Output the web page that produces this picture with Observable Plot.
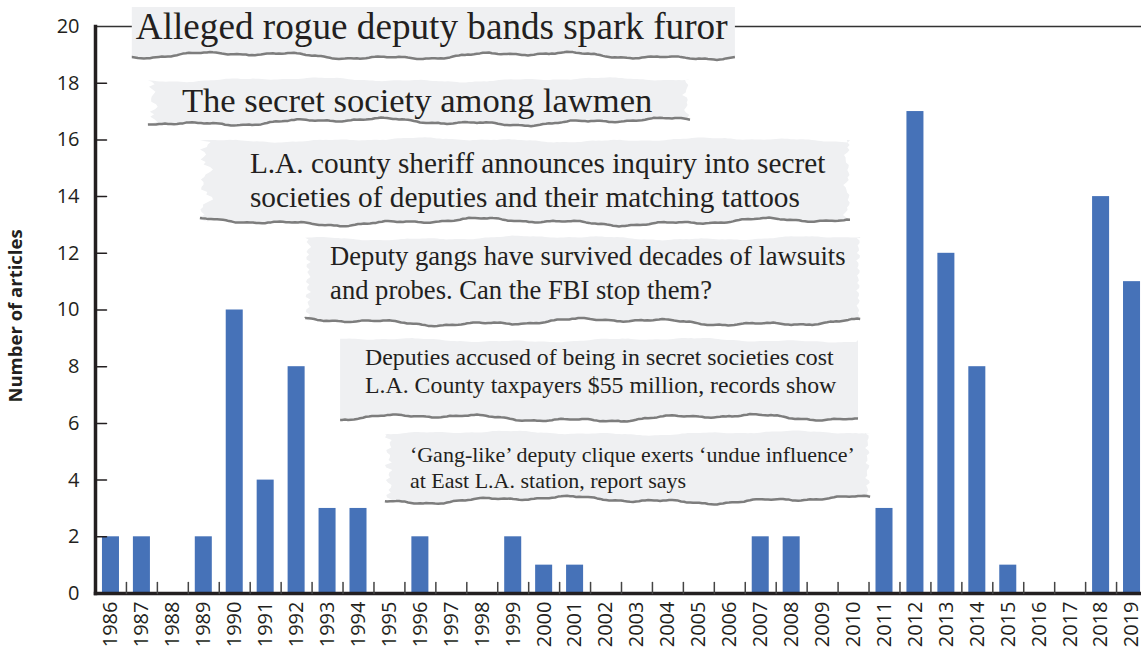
<!DOCTYPE html>
<html><head><meta charset="utf-8">
<script src="https://cdn.jsdelivr.net/npm/d3@7"></script>
<script src="https://cdn.jsdelivr.net/npm/@observablehq/plot@0.6"></script>
<style>html,body{margin:0;padding:0;background:#fff;overflow:hidden} svg{display:block}</style>
</head><body><div id="chart"></div>
<script>
// ---- data ----
const years = ["1986","1987","1988","1989","1990","1991","1992","1993","1994","1995","1996","1997","1998","1999","2000","2001","2002","2003","2004","2005","2006","2007","2008","2009","2010","2011","2012","2013","2014","2015","2016","2017","2018","2019"];
const articles = [2,2,0,2,10,4,8,3,3,0,2,0,0,2,1,1,0,0,0,0,0,2,2,0,0,3,17,12,8,1,0,0,14,11];
const yTicks = [0,2,4,6,8,10,12,14,16,18,20];
const yLabel = "Number of articles";
const headlines = [
  ["Alleged rogue deputy bands spark furor"],
  ["The secret society among lawmen"],
  ["L.A. county sheriff announces inquiry into secret", "societies of deputies and their matching tattoos"],
  ["Deputy gangs have survived decades of lawsuits", "and probes. Can the FBI stop them?"],
  ["Deputies accused of being in secret societies cost", "L.A. County taxpayers $55 million, records show"],
  ["\u2018Gang-like\u2019 deputy clique exerts \u2018undue influence\u2019", "at East L.A. station, report says"]
];
// annotation layout: box edges in (fractional year, article-count) units
const headlineLayout = [
  {x0: 1986.69, x1: 2006.18, yTop: 20.67, yBot: 18.95, padX: 4, base: 32, gap: 0, size: 37.2, jagL: 0, jagR: 0},
  {x0: 1987.21, x1: 2004.73, yTop: 18.10, yBot: 16.62, padX: 34, base: 32, gap: 0, size: 34.6, jagL: 12, jagR: 8},
  {x0: 1988.89, x1: 2009.90, yTop: 15.98, yBot: 13.09, padX: 50, base: 33, gap: 34, size: 29.3, jagL: 14, jagR: 6},
  {x0: 1992.29, x1: 2010.23, yTop: 12.52, yBot: 9.56, padX: 25, base: 27, gap: 34, size: 26.6, jagL: 5, jagR: 3},
  {x0: 1993.42, x1: 2010.16, yTop: 8.92, yBot: 6.17, padX: 25, base: 25, gap: 28, size: 23.8, jagL: 0, jagR: 0},
  {x0: 1994.87, x1: 2010.55, yTop: 5.64, yBot: 3.28, padX: 25, base: 29, gap: 26, size: 22, jagL: 8, jagR: 5}
];

const data = years.map((year, i) => ({year, n: articles[i]}));
const xOpts = {domain: years, range: [95, 1147], paddingInner: 0.45, paddingOuter: 0.225, align: 0.5};
const step = Plot.scale({x: {type: "band", ...xOpts}}).step;
const line = {draw(ctx, l) { ctx.moveTo(0, 0); ctx.lineTo(0, -l); }};
const ink = "#231f20";

const plot = Plot.plot({
  width: 1141, height: 657,
  marginTop: 26, marginBottom: 64, marginLeft: 95, marginRight: 0,
  style: {fontFamily: "'Open Sans', sans-serif", fontSize: "20px", color: ink, background: "#fff", overflow: "hidden"},
  x: {type: "band", ...xOpts, label: null},
  y: {domain: [0, 20], label: null},
  marks: [
    Plot.barY(data, {x: "year", y: "n", fill: "#4672b8"}),
    Plot.ruleY([20], {stroke: "#333", strokeWidth: 1.5}),
    Plot.frame({anchor: "left", stroke: ink, strokeWidth: 3.5}),
    Plot.frame({anchor: "bottom", stroke: ink, strokeWidth: 3.5}),
    Plot.vector(yTicks.slice(1, -1), {y: d => d, frameAnchor: "left", rotate: 90, length: 11, anchor: "start", shape: line, stroke: ink, strokeWidth: 1.5}),
    Plot.vector(years.slice(1), {x: d => d, dx: -step / 2, frameAnchor: "bottom", length: 11, anchor: "start", shape: line, stroke: "#444", strokeWidth: 1.5}),
    Plot.axisY(yTicks, {tickSize: 0, tickPadding: 16, fontSize: 20, label: null}),
    Plot.axisX({tickSize: 0, tickRotate: -90, tickPadding: 8, fontSize: 20, label: null}),
    Plot.text([yLabel], {frameAnchor: "left", dx: -79, dy: 6, rotate: -90, textAnchor: "middle", fontWeight: "bold", fontSize: 18.5})
  ]
});
document.getElementById("chart").appendChild(plot);

// ---- torn-paper headline annotations ----
const xs = plot.scale("x"), ys = plot.scale("y");
const px = v => xs.apply(years[0]) + xs.bandwidth / 2 + (v - +years[0]) * xs.step;
const py = v => ys.apply(v);
const svg = d3.select(plot);
const g = svg.append("g").attr("class", "headlines");
// deterministic ragged-edge offsets
const rag = (t, s) => Math.sin(t * 0.021 + s) * 0.5 + Math.sin(t * 0.067 + s * 1.7) * 0.3 + Math.sin(t * 0.23 + s * 3.1) * 0.1 + Math.sin(t * 0.9 + s * 0.7) * 0.03;

headlineLayout.forEach((L, k) => {
  const X0 = px(L.x0), X1 = px(L.x1), Y0 = py(L.yTop), Y1 = py(L.yBot);
  const s = k * 3.7 + 1;
  const top = [], bot = [], right = [], left = [];
  for (let x = X0; x < X1; x += 3) top.push([x, Y0 + (k === 0 ? 0 : rag(x, s) * 3)]);
  top.push([X1, Y0]);
  for (let y = Y0, i = 0; y < Y1; y += 2.5, i++) right.push([X1 - (L.jagR ? Math.abs(rag(y * 5, s + 2)) * L.jagR + (i % 3 === 0 ? 2 : 0) : 0), y]);
  for (let x = X1; x > X0; x -= 3) bot.push([x, Y1 + rag(x, s + 5) * 5]);
  bot.push([X0, Y1 + rag(X0, s + 5) * 5]);
  for (let y = Y1, i = 0; y > Y0; y -= 2.5, i++) left.push([X0 + (L.jagL ? Math.abs(rag(y * 5, s + 7)) * L.jagL + (i % 3 === 0 ? 3 : 0) : 0), y]);
  const poly = [...top, ...right, ...bot, ...left];
  g.append("path").attr("d", "M" + poly.map(p => p.map(v => v.toFixed(1)).join(",")).join("L") + "Z")
    .attr("fill", "#eff0f2");
  g.append("path").attr("d", "M" + bot.map(p => p.map(v => v.toFixed(1)).join(",")).join("L"))
    .attr("fill", "none").attr("stroke", "#7d7d7d").attr("stroke-width", 2.5).attr("stroke-linejoin", "round");
  const t = g.append("text").attr("font-family", "'Liberation Serif', 'Times New Roman', serif")
    .attr("font-size", L.size).attr("fill", ink).attr("text-anchor", "start");
  headlines[k].forEach((ln, j) => {
    t.append("tspan").attr("x", X0 + L.padX).attr("y", Y0 + L.base + j * L.gap).text(ln);
  });
});
</script>
</body></html>
